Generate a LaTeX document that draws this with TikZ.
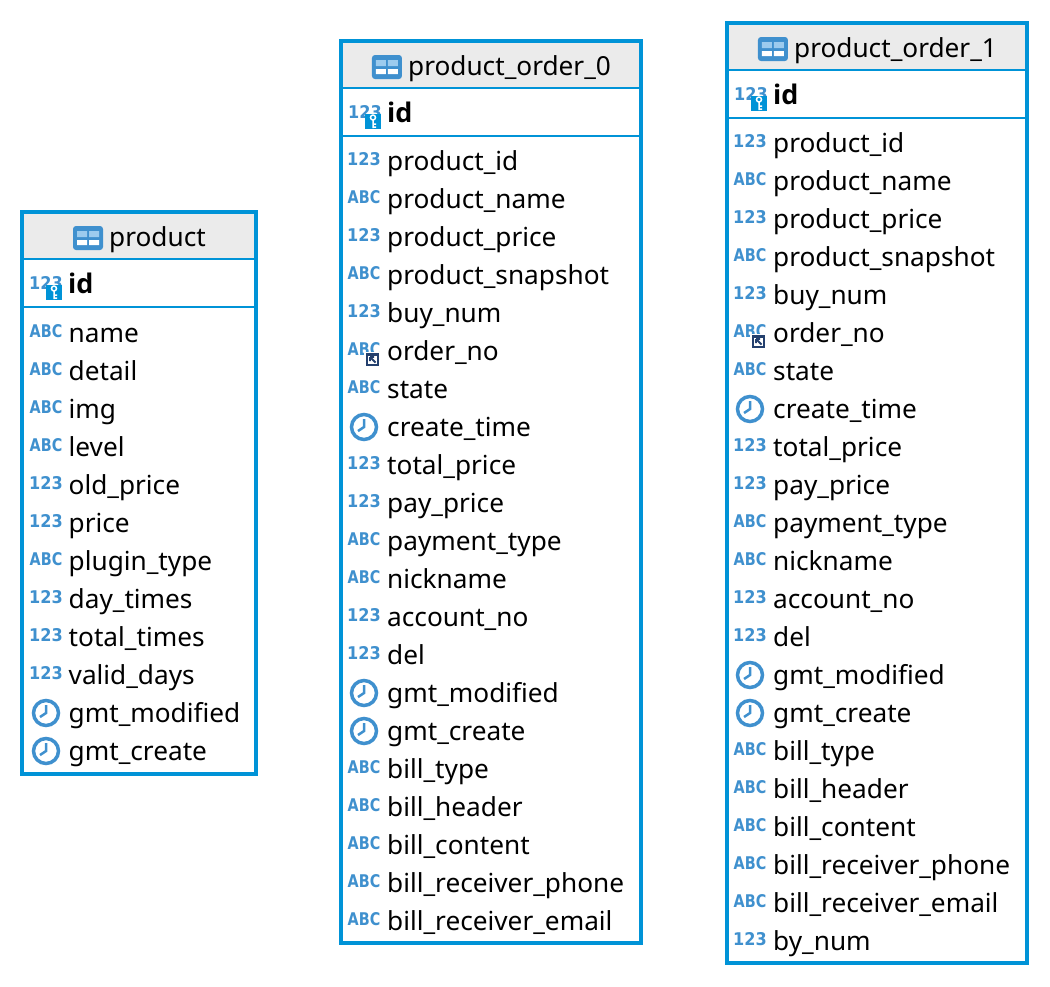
\documentclass[tikz,border=0pt]{standalone}
\usepackage{fontspec}
\setmainfont{Noto Sans}
\newfontfamily\iconfont{DejaVu Sans}
\newfontfamily\keyfont{Open Sans}
\definecolor{frameblue}{HTML}{0093D7}
\definecolor{iconblue}{HTML}{3F90CE}
\definecolor{iconpale}{HTML}{9CCBEE}
\definecolor{headgray}{HTML}{EBEBEB}
\definecolor{linknavy}{HTML}{24406E}
\tikzset{
    headtext/.style={inner sep=0pt, anchor=base, font=\fontsize{26.2}{30}\selectfont},
    fieldtext/.style={inner sep=0pt, anchor=base west, font=\fontsize{26.2}{30}\selectfont},
    keytext/.style={fieldtext, font=\keyfont\fontsize{27}{30}\selectfont\bfseries},
    icontext/.style={inner sep=0pt, text=iconblue, font=\iconfont\fontsize{17.5}{20}\selectfont\bfseries},
    pics/abc/.style={code={\node[icontext] (-text) at (0,0) {\scalebox{.82}[1]{ABC}};}},
    pics/num/.style={code={\node[icontext] (-text) at (0,0) {\scalebox{.92}[1]{123}};}},
    pics/clock/.style={code={
        \draw[iconblue, line width=3.5pt] (0,2) circle (12.5);
        \draw[iconblue, line width=2.5pt] (0,-6) -- (0,2) -- (-6,6);}},
    pics/numkey/.style={code={
        \node[icontext] (-text) at (0,0) {\scalebox{.92}[1]{123}};
        \fill[frameblue] (0,2) rectangle (16,17);
        \draw[white, line width=1.5pt] (8,5.5) circle (2.5) (8,8) -- (8,16) (8,12) -- (11,12) (8,15) -- (11,15);}},
    pics/abclink/.style={code={
        \node[icontext] (-text) at (0,0) {\scalebox{.82}[1]{ABC}};
        \fill[white] (0,3) rectangle (17,19);
        \fill[linknavy] (1.5,4) rectangle (15,17);
        \fill[white] (4,6.5) rectangle (12.5,14.5);
        \draw[linknavy, line width=1.8pt] (6,8) -- (11.5,13.5) (6,8) -- (10,8) (6,8) -- (6,12);}},
    pics/tableicon/.style={code={
        \fill[iconblue, rounded corners=3pt] (-15,-12) rectangle (15,12);
        \fill[iconpale] (-11,-7) rectangle (-1,-1) (1,-7) rectangle (11,-1);
        \fill[white] (-11,2) rectangle (-1,7) (1,2) rectangle (11,7);}},
}

% one table: name, left, top, right, bottom, title
\newcommand{\dbtable}[6]{
    \coordinate (#1-nw) at (#2,#3);
    \coordinate (#1-se) at (#4,#5);
    \fill[headgray] (#2,#3) rectangle (#4,#3+46.5);
    \draw[draw=frameblue, line width=4pt] (#1-nw) rectangle (#1-se);
    \coordinate (#1-heada) at (#2,#3+46.5);
    \coordinate (#1-headb) at (#4,#3+46.5);
    \coordinate (#1-keya) at (#2,#3+94.5);
    \coordinate (#1-keyb) at (#4,#3+94.5);
    \draw[frameblue, line width=2pt] (#1-heada) -- (#1-headb);
    \draw[frameblue, line width=2pt] (#1-keya) -- (#1-keyb);
    \node[headtext] (#1-title) at ({(#2+#4)/2+18.5},#3+34) {#6};
    \pic (#1-icon) at ([xshift=-21pt,yshift=8pt]#1-title.base west) {tableicon};
    \pic (#1-keyicon) at (#2+24,#3+71) {numkey};
    \node[keytext] (#1-id) at (#2+46,#3+81) {id};
}

\begin{document}
\begin{tikzpicture}[x=1pt,y=-1pt]
    \useasboundingbox (0,0) rectangle (1050,986);

    \dbtable{product}{22}{212}{256}{774}{product}
    \foreach \kind/\field [count=\i from 0] in {abc/name,abc/detail,abc/img,abc/level,num/old\_price,num/price,abc/plugin\_type,num/day\_times,num/total\_times,num/valid\_days,clock/gmt\_modified,clock/gmt\_create} {
        \pic (product-mark-\i) at (46,331+38*\i) {\kind};
        \node[fieldtext] (product-field-\i) at (68.5,342+38*\i) {\field};
    }

    \dbtable{orderzero}{341}{41}{641}{943}{product\_order\_0}
    \foreach \kind/\field [count=\i from 0] in {num/product\_id,abc/product\_name,num/product\_price,abc/product\_snapshot,num/buy\_num,abclink/order\_no,abc/state,clock/create\_time,num/total\_price,num/pay\_price,abc/payment\_type,abc/nickname,num/account\_no,num/del,clock/gmt\_modified,clock/gmt\_create,abc/bill\_type,abc/bill\_header,abc/bill\_content,abc/bill\_receiver\_phone,abc/bill\_receiver\_email} {
        \pic (orderzero-mark-\i) at (364,159+38*\i) {\kind};
        \node[fieldtext] (orderzero-field-\i) at (387,170+38*\i) {\field};
    }

    \dbtable{orderone}{727}{23}{1027}{963}{product\_order\_1}
    \foreach \kind/\field [count=\i from 0] in {num/product\_id,abc/product\_name,num/product\_price,abc/product\_snapshot,num/buy\_num,abclink/order\_no,abc/state,clock/create\_time,num/total\_price,num/pay\_price,abc/payment\_type,abc/nickname,num/account\_no,num/del,clock/gmt\_modified,clock/gmt\_create,abc/bill\_type,abc/bill\_header,abc/bill\_content,abc/bill\_receiver\_phone,abc/bill\_receiver\_email,num/by\_num} {
        \pic (orderone-mark-\i) at (750,141+38*\i) {\kind};
        \node[fieldtext] (orderone-field-\i) at (773,152+38*\i) {\field};
    }
\end{tikzpicture}
\end{document}
